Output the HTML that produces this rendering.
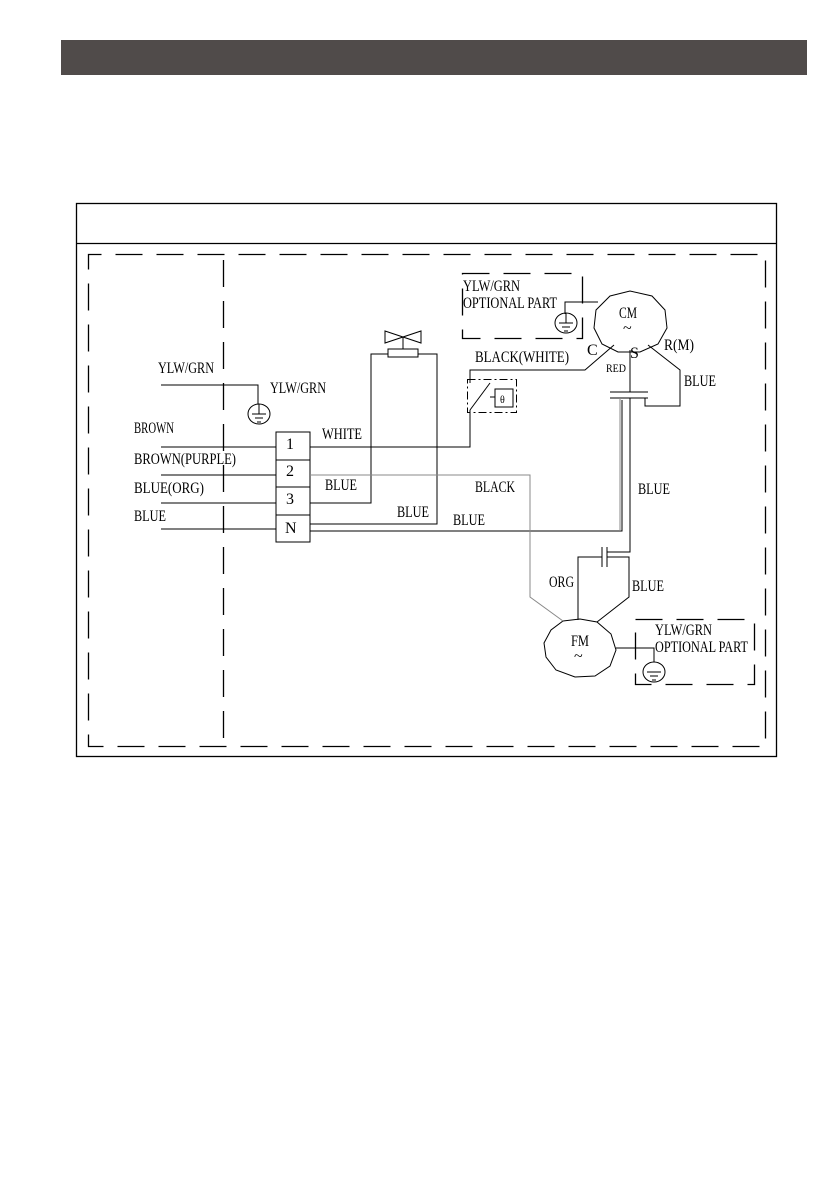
<!DOCTYPE html>
<html><head><meta charset="utf-8"><style>
html,body{margin:0;padding:0;background:#fff;width:840px;height:1192px;overflow:hidden}
svg text{font-family:"Liberation Serif","DejaVu Serif",serif;font-size:16px;fill:#000}
</style></head><body>
<svg width="840" height="1192" viewBox="0 0 840 1192" xmlns="http://www.w3.org/2000/svg">
<rect x="61" y="40" width="746" height="35" fill="#504b4a"/>
<g fill="none" stroke="#000" stroke-width="1.3">
<rect x="76.5" y="203.5" width="700" height="553"/>
<line x1="76" y1="243.5" x2="777" y2="243.5"/>
</g>
<g fill="none" stroke="#000" stroke-width="1.3" stroke-dasharray="27,14">
<rect x="88.5" y="254.5" width="677" height="492" stroke-dashoffset="-27"/>
<line x1="223.5" y1="260" x2="223.5" y2="747"/>
<rect x="462.5" y="273.5" width="120" height="65"/>
<rect x="635.5" y="619.5" width="119" height="65"/>
</g>
<g fill="none" stroke="#000" stroke-width="1">
<rect x="276" y="432" width="34" height="110"/>
<line x1="276" y1="460" x2="310" y2="460"/><line x1="276" y1="487" x2="310" y2="487"/><line x1="276" y1="515" x2="310" y2="515"/>
<line x1="161" y1="447" x2="276" y2="447"/><line x1="161" y1="475" x2="276" y2="475"/>
<line x1="161" y1="503" x2="276" y2="503"/><line x1="161" y1="529" x2="276" y2="529"/>
<polyline points="161,385 258,385 258,404"/>
<ellipse cx="259" cy="414" rx="11" ry="10"/>
<line x1="252" y1="414" x2="266" y2="414"/><line x1="255" y1="418" x2="263" y2="418"/><line x1="257" y1="422" x2="261" y2="422"/><line x1="259" y1="404" x2="259" y2="414"/>
<polyline points="310,447 470,447 470,410"/>
<polyline points="470,383 470,370 585,370 614,345"/>
<line x1="470" y1="410" x2="490" y2="383"/>
<rect x="467.5" y="379.5" width="49" height="33" stroke-dasharray="8,3,2,3"/>
<rect x="495" y="389" width="18" height="18"/>
<line x1="490" y1="397" x2="495" y2="397"/>
<polyline points="310,503 371,503 371,354 388,354"/>
<rect x="388" y="349" width="30" height="8"/>
<polyline points="418,354 437,354 437,524 310,524"/>
<polygon points="385,331 421,343 421,331 385,343"/>
<line x1="403" y1="337" x2="403" y2="349"/>
<polyline points="310,531 622,531 622,400"/>
<polygon points="610,296 630,291 652,296 665,310 667,328 658,344 640,352 618,352 602,344 594,328 596,310"/>
<line x1="630" y1="350" x2="630" y2="392"/>
<line x1="610" y1="392" x2="648" y2="392"/>
<line x1="610" y1="398" x2="648" y2="398"/>
<polyline points="645,398 645,406 680,406 680,370 648,345"/>
<line x1="630" y1="398" x2="630" y2="550"/>
<polyline points="598,302 565,302 565,314"/>
<ellipse cx="566" cy="323" rx="11" ry="10"/>
<line x1="559" y1="323" x2="573" y2="323"/><line x1="562" y1="327" x2="570" y2="327"/><line x1="564" y1="331" x2="568" y2="331"/><line x1="566" y1="313" x2="566" y2="323"/>
<polyline points="630,550 630,552 607,552"/>
<line x1="602" y1="547" x2="602" y2="567"/><line x1="607" y1="547" x2="607" y2="567"/>
<polyline points="602,557 578,557 578,620"/>
<polyline points="607,557 629,557 629,597 597,622"/>
<polygon points="563,621 580,619 597,622 611,634 616,650 610,666 595,676 575,677 556,670 546,657 544,643 551,630"/>
<polyline points="616,648 654,648 654,662"/>
<ellipse cx="654" cy="672" rx="11" ry="10"/>
<line x1="647" y1="672" x2="661" y2="672"/><line x1="650" y1="676" x2="658" y2="676"/><line x1="652" y1="680" x2="656" y2="680"/>
</g>
<g fill="none" stroke="#888" stroke-width="1">
<polyline points="310,475 530,475 530,597 563,621"/>
<line x1="620" y1="398" x2="620" y2="531"/>
</g>
<g lengthAdjust="spacingAndGlyphs">
<text x="158" y="373" textLength="56" lengthAdjust="spacingAndGlyphs">YLW/GRN</text>
<text x="270" y="393" textLength="56" lengthAdjust="spacingAndGlyphs">YLW/GRN</text>
<text x="134" y="433" textLength="40" lengthAdjust="spacingAndGlyphs">BROWN</text>
<text x="134" y="464" textLength="102" lengthAdjust="spacingAndGlyphs">BROWN(PURPLE)</text>
<text x="134" y="493" textLength="70" lengthAdjust="spacingAndGlyphs">BLUE(ORG)</text>
<text x="134" y="521" textLength="32" lengthAdjust="spacingAndGlyphs">BLUE</text>
<text x="286" y="449">1</text><text x="286" y="476">2</text><text x="286" y="504">3</text><text x="285" y="533">N</text>
<text x="322" y="439" textLength="40" lengthAdjust="spacingAndGlyphs">WHITE</text>
<text x="325" y="490" textLength="32" lengthAdjust="spacingAndGlyphs">BLUE</text>
<text x="397" y="517" textLength="32" lengthAdjust="spacingAndGlyphs">BLUE</text>
<text x="475" y="492" textLength="40" lengthAdjust="spacingAndGlyphs">BLACK</text>
<text x="453" y="525" textLength="32" lengthAdjust="spacingAndGlyphs">BLUE</text>
<text x="463" y="291" textLength="57" lengthAdjust="spacingAndGlyphs">YLW/GRN</text>
<text x="463" y="308" textLength="94" lengthAdjust="spacingAndGlyphs">OPTIONAL PART</text>
<text x="475" y="362" textLength="94" lengthAdjust="spacingAndGlyphs">BLACK(WHITE)</text>
<text x="587" y="355">C</text>
<text x="630" y="358">S</text>
<text x="606" y="372" style="font-size:12px" textLength="20" lengthAdjust="spacingAndGlyphs">RED</text>
<text x="664" y="350" textLength="30" lengthAdjust="spacingAndGlyphs">R(M)</text>
<text x="684" y="386" textLength="32" lengthAdjust="spacingAndGlyphs">BLUE</text>
<text x="619" y="318" textLength="18" lengthAdjust="spacingAndGlyphs">CM</text>
<text x="623" y="333">~</text>
<text x="638" y="494" textLength="32" lengthAdjust="spacingAndGlyphs">BLUE</text>
<text x="549" y="587" textLength="25" lengthAdjust="spacingAndGlyphs">ORG</text>
<text x="632" y="591" textLength="32" lengthAdjust="spacingAndGlyphs">BLUE</text>
<text x="571" y="646" textLength="18" lengthAdjust="spacingAndGlyphs">FM</text>
<text x="574" y="661">~</text>
<text x="655" y="635" textLength="57" lengthAdjust="spacingAndGlyphs">YLW/GRN</text>
<text x="655" y="652" textLength="93" lengthAdjust="spacingAndGlyphs">OPTIONAL PART</text>
<text x="500" y="403" style="font-size:10px">θ</text>
</g>
</svg>
</body></html>
